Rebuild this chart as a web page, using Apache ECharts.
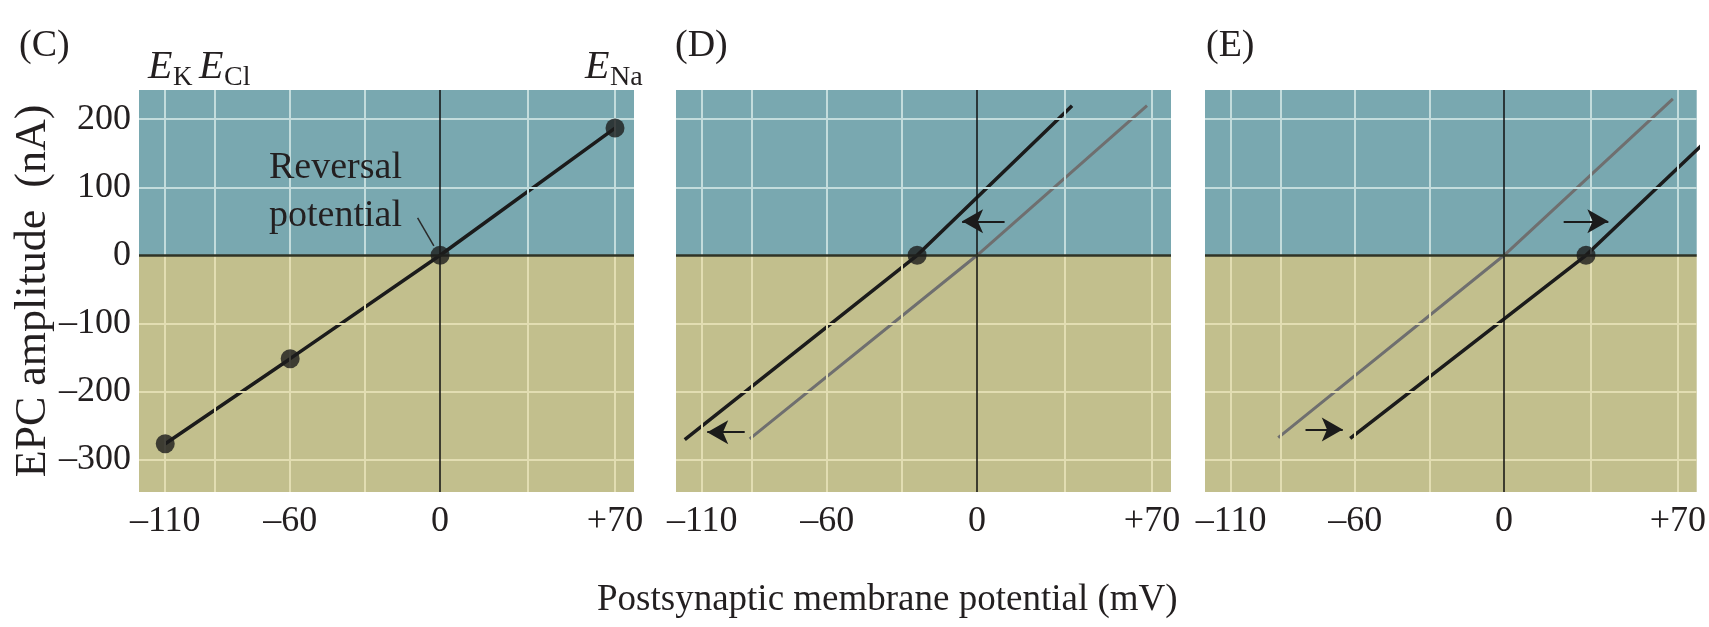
<!DOCTYPE html>
<html>
<head>
<meta charset="utf-8">
<script src="https://cdn.jsdelivr.net/npm/echarts@6/dist/echarts.min.js"></script>
<style>
  html, body { margin: 0; padding: 0; background: #fff; }
  #chart { width: 1709px; height: 627px; }
</style>
</head>
<body>
<div id="chart"></div>
<script>
// tick labels
const xTickValues = [-110, -60, 0, 70];
const xTickLabels = ['–110', '–60', '0', '+70'];
const yTickValues = [-300, -200, -100, 0, 100, 200];
const yTickLabels = ['–300', '–200', '–100', '0', '100', '200'];
// light background grid (unlabelled lines included)
const xGridValues = [-110, -90, -60, -30, 35, 70];
const yGridValues = [-300, -200, -100, 100, 200];

// (C) EPC amplitude at four holding potentials
const cVoltage = [-110, -60, 0, 70];
const cCurrent = [-277, -152, 0, 187];

// (D) reversal potential shifted negative
const dControlV = [-91, 0, 68];
const dControlI = [-270, 0, 220];
const dShiftedV = [-117, -24, 38];
const dShiftedI = [-271, 0, 220];
const dReversal = [-24, 0];
const dArrows = [[11, 50, -6, 50], [-93, -260, -108, -260]];

// (E) reversal potential shifted positive
const eControlV = [-91, 0, 68];
const eControlI = [-268, 0, 230];
const eShiftedV = [-62, 33, 80];
const eShiftedI = [-269, 0, 163];
const eReversal = [33, 0];
const eArrows = [[24, 50, 42, 50], [-80, -256, -65, -256]];

// pointer from "Reversal potential" to the dot in (C)
const leader = [-9, 55, -2.5, 14];

const X_MIN = -120.5, X_MAX = 77.6;
const Y_MIN = -348, Y_MAX = 243;
const SERIF = "'Liberation Serif', 'DejaVu Serif', serif";
const INK = '#231f20';
const BLUE = '#79a8b0';
const OLIVE = '#c2bf8d';
const GRID_ON_BLUE = '#c3dcdc';
const GRID_ON_OLIVE = '#e2ddb2';

const pairs = (xs, ys) => xs.map((x, i) => [x, ys[i]]);

const myChart = echarts.init(document.getElementById('chart'));

const gridLefts = [139, 676, 1205];

function panelSeries(i, lines, dots, arrows, pointer) {
  const gridLines = [];
  xGridValues.forEach(v => {
    gridLines.push([{coord: [v, 0], lineStyle: {color: GRID_ON_BLUE}}, {coord: [v, Y_MAX]}]);
    gridLines.push([{coord: [v, Y_MIN], lineStyle: {color: GRID_ON_OLIVE}}, {coord: [v, 0]}]);
  });
  yGridValues.forEach(v => {
    gridLines.push([{coord: [X_MIN, v], lineStyle: {color: v > 0 ? GRID_ON_BLUE : GRID_ON_OLIVE}}, {coord: [X_MAX, v]}]);
  });
  gridLines.push([{coord: [0, Y_MIN], lineStyle: {color: '#111', width: 1.5}}, {coord: [0, Y_MAX]}]);
  gridLines.push([{coord: [X_MIN, 0], lineStyle: {color: '#2f3326', width: 2.5}}, {coord: [X_MAX, 0]}]);

  const out = [
    {
      type: 'line', xAxisIndex: i, yAxisIndex: i, data: [], silent: true, z: 0,
      markArea: {
        silent: true,
        data: [
          [{xAxis: X_MIN, yAxis: 0, itemStyle: {color: BLUE}}, {xAxis: X_MAX, yAxis: Y_MAX}],
          [{xAxis: X_MIN, yAxis: Y_MIN, itemStyle: {color: OLIVE}}, {xAxis: X_MAX, yAxis: 0}]
        ]
      }
    },
    {
      type: 'line', xAxisIndex: i, yAxisIndex: i, data: [], silent: true, z: 1,
      markLine: {
        silent: true, symbol: 'none', label: {show: false},
        lineStyle: {type: 'solid', width: 2},
        data: gridLines
      }
    }
  ];
  lines.forEach(l => {
    out.push({
      type: 'line', xAxisIndex: i, yAxisIndex: i, z: l.z,
      data: l.data, showSymbol: false, silent: true,
      lineStyle: {color: l.color, width: l.width}
    });
  });
  out.push({
    type: 'scatter', xAxisIndex: i, yAxisIndex: i, z: 5, silent: true,
    data: dots, symbolSize: 19, itemStyle: {color: '#1b1b1b'}
  });
  if (arrows.length) {
    out.push({
      type: 'line', xAxisIndex: i, yAxisIndex: i, data: [], silent: true, z: 5,
      markLine: {
        silent: true, symbol: ['none', 'arrow'], symbolSize: [18, 21],
        label: {show: false},
        lineStyle: {type: 'solid', width: 2, color: '#1b1b1b'},
        data: arrows.map(a => [{coord: [a[0], a[1]]}, {coord: [a[2], a[3]]}])
      }
    });
  }
  if (pointer) {
    out.push({
      type: 'line', xAxisIndex: i, yAxisIndex: i, data: [], silent: true, z: 5,
      markLine: {
        silent: true, symbol: 'none', label: {show: false},
        lineStyle: {type: 'solid', width: 1.5, color: '#2a2a2a'},
        data: [[{coord: [pointer[0], pointer[1]]}, {coord: [pointer[2], pointer[3]]}]]
      }
    });
  }
  return out;
}

const series = [].concat(
  panelSeries(0, [
    {data: pairs(cVoltage, cCurrent), color: '#1b1b1b', width: 3.5, z: 4}
  ], pairs(cVoltage, cCurrent), [], leader),
  panelSeries(1, [
    {data: pairs(dControlV, dControlI), color: '#6f6f6f', width: 3, z: 3},
    {data: pairs(dShiftedV, dShiftedI), color: '#1b1b1b', width: 3.5, z: 4}
  ], [dReversal], dArrows),
  panelSeries(2, [
    {data: pairs(eControlV, eControlI), color: '#6f6f6f', width: 3, z: 3},
    {data: pairs(eShiftedV, eShiftedI), color: '#1b1b1b', width: 3.5, z: 4}
  ], [eReversal], eArrows)
);

const txt = (text, left, top, size, italic) => ({
  type: 'text', left: left, top: top, z: 10,
  style: {text: text, font: (italic ? 'italic ' : '') + size + 'px ' + SERIF, fill: INK}
});

myChart.setOption({
  animation: false,
  title: [
    {text: '(C)', left: 14, top: 22},
    {text: '(D)', left: 670, top: 22},
    {text: '(E)', left: 1201, top: 22}
  ].map(t => Object.assign(t, {textStyle: {fontSize: 38, fontWeight: 'normal', fontFamily: SERIF, color: INK}})),
  grid: gridLefts.map(l => ({left: l, top: 90, width: 495, height: 402})),
  xAxis: gridLefts.map((l, i) => ({
    gridIndex: i, type: 'value', min: X_MIN, max: X_MAX,
    axisLine: {show: false}, axisTick: {show: false}, splitLine: {show: false},
    axisLabel: {
      customValues: xTickValues,
      formatter: v => xTickLabels[xTickValues.indexOf(Math.round(v))],
      fontSize: 36, fontFamily: SERIF, color: INK, margin: 12
    }
  })),
  yAxis: gridLefts.map((l, i) => ({
    gridIndex: i, type: 'value', min: Y_MIN, max: Y_MAX,
    axisLine: {show: false}, axisTick: {show: false}, splitLine: {show: false},
    axisLabel: i === 0 ? {
      customValues: yTickValues,
      formatter: v => yTickLabels[yTickValues.indexOf(Math.round(v))],
      fontSize: 36, fontFamily: SERIF, color: INK, margin: 8,
      padding: [9, 0, 0, 0]
    } : {show: false},
    name: i === 0 ? 'EPC amplitude  (nA)' : '',
    nameLocation: 'middle', nameGap: 84,
    nameTextStyle: {fontSize: 44, fontFamily: SERIF, color: INK}
  })),
  graphic: [
    txt('E', 148, 47, 40, true),
    txt('K', 173, 64, 27),
    txt('E', 199, 47, 40, true),
    txt('Cl', 224, 64, 28),
    txt('E', 585, 47, 40, true),
    txt('Na', 610, 64, 28),
    {type: 'text', left: 269, top: 144, z: 10, style: {text: 'Reversal\npotential', font: '38px ' + SERIF, lineHeight: 48, fill: INK}},
    txt('Postsynaptic membrane potential (mV)', 597, 582, 37)
  ],
  series: series
});
</script>
</body>
</html>
